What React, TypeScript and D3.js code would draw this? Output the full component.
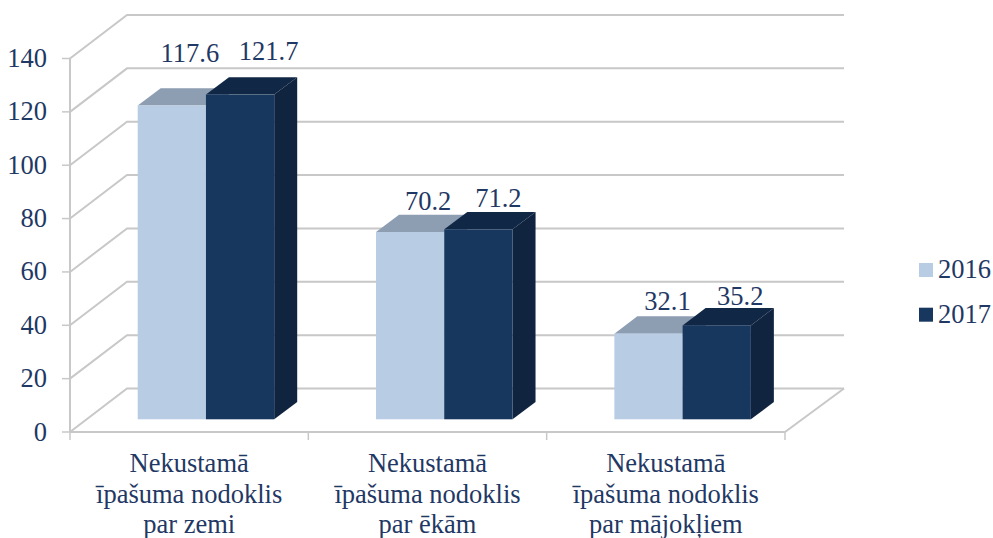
import React from "react";
import * as d3 from "d3";

const categories = [
  ["Nekustamā", "īpašuma nodoklis", "par zemi"],
  ["Nekustamā", "īpašuma nodoklis", "par ēkām"],
  ["Nekustamā", "īpašuma nodoklis", "par mājokļiem"],
];
const years = ["2016", "2017"];
const values2016 = [117.6, 70.2, 32.1];
const values2017 = [121.7, 71.2, 35.2];
const yTicks = [0, 20, 40, 60, 80, 100, 120, 140];

const W = 993, H = 538;
const plotLeft = 70, plotRight = 785, plotBottom = 432, plotTop = 58.5;
const wallDx = 57, wallDy = -43.5;
const barInset = 12.7, barDx = 23, barDy = -17.3;
const textColor = "#1F3864";
const gridColor = "#C8C8C8";
const faces = [
  { front: "#B8CCE4", top: "#8D9DB2", side: "#8D9DB2" },
  { front: "#17375E", top: "#112746", side: "#10243F" },
];
const font = "'Liberation Serif', serif";
const fs = 26.5;
// hand-placed data label anchors, as the source chart nudges them
const labelShift = [
  [[18, -26], [28.5, -17]],
  [[18, -5], [20, -5]],
  [[19, -6], [23.5, -3]],
];

export default function App() {
  const y = d3.scaleLinear().domain([0, 140]).range([plotBottom, plotTop]);
  const x0 = d3.scaleBand<number>().domain([0, 1, 2]).range([plotLeft, plotRight]);
  const x1 = d3.scaleBand<number>().domain([0, 1]).range([67.7, 204.2]);
  const series = [values2016, values2017];
  const line = d3.line();
  const h = (v: number) => plotBottom - y(v);
  return (
    <svg width={W} height={H} style={{ position: "absolute", left: 0, top: 0, background: "#fff" }} fontFamily={font}>
      {yTicks.map((t) => (
        <path
          key={t}
          d={line([
            [plotLeft, y(t)],
            [plotLeft + wallDx, y(t) + wallDy],
            [plotRight + wallDx + 2, y(t) + wallDy],
          ])!}
          fill="none"
          stroke={gridColor}
          strokeWidth={2}
        />
      ))}
      <path
        d={line([
          [plotRight, plotBottom],
          [plotRight + wallDx + 2, plotBottom + wallDy],
        ])!}
        fill="none"
        stroke={gridColor}
        strokeWidth={2}
      />
      <path d={line([[plotLeft, y(140)], [plotLeft, plotBottom]])!} stroke={gridColor} strokeWidth={2} fill="none" />
      <path d={line([[plotLeft, plotBottom], [plotRight, plotBottom]])!} stroke={gridColor} strokeWidth={2} fill="none" />
      {yTicks.map((t) => (
        <g key={t}>
          <line x1={plotLeft - 8} x2={plotLeft} y1={y(t)} y2={y(t)} stroke={gridColor} strokeWidth={1.5} />
          <text x={47} y={y(t) + 8.5} textAnchor="end" fontSize={fs} fill={textColor}>
            {t}
          </text>
        </g>
      ))}
      {[0, 1, 2, 3].map((i) => {
        const px = plotLeft + i * x0.bandwidth();
        return <line key={i} x1={px} x2={px} y1={plotBottom} y2={plotBottom + 8} stroke={gridColor} strokeWidth={1.5} />;
      })}
      {categories.map((_, c) =>
        series.map((vals, s) => {
          const left = x0(c)! + x1(s)!;
          const w = x1.bandwidth();
          const base = plotBottom - barInset;
          const top = base - h(vals[c]);
          return (
            <g key={`${c}-${s}`}>
              <polygon
                points={`${left},${top} ${left + barDx},${top + barDy} ${left + w + barDx},${top + barDy} ${left + w},${top}`}
                fill={faces[s].top}
              />
              <polygon
                points={`${left + w},${top} ${left + w + barDx},${top + barDy} ${left + w + barDx},${base + barDy} ${left + w},${base}`}
                fill={faces[s].side}
              />
              <rect x={left} y={top} width={w} height={base - top} fill={faces[s].front} />
            </g>
          );
        })
      )}
      {categories.map((_, c) =>
        series.map((vals, s) => {
          const left = x0(c)! + x1(s)!;
          const top = plotBottom - barInset - h(vals[c]);
          return (
            <text
              key={`l${c}-${s}`}
              x={left + x1.bandwidth() / 2 + labelShift[c][s][0]}
              y={top + barDy + labelShift[c][s][1]}
              textAnchor="middle"
              fontSize={fs}
              fill={textColor}
            >
              {vals[c].toFixed(1)}
            </text>
          );
        })
      )}
      {categories.map((lines, c) => (
        <text key={c} textAnchor="middle" fontSize={fs} fill={textColor}>
          {lines.map((ln, i) => (
            <tspan key={i} x={x0(c)! + x0.bandwidth() / 2} y={472 + i * 30.7}>
              {ln}
            </tspan>
          ))}
        </text>
      ))}
      {years.map((yr, i) => (
        <g key={yr}>
          <rect x={919} y={263 + i * 44.7} width={14} height={14} fill={faces[i].front} />
          <text x={938} y={278 + i * 45} fontSize={fs} fill={textColor}>
            {yr}
          </text>
        </g>
      ))}
    </svg>
  );
}
